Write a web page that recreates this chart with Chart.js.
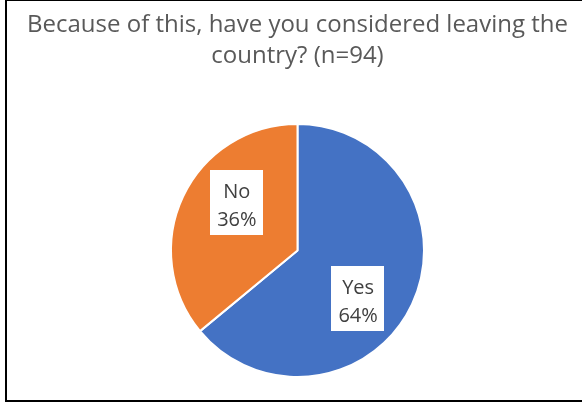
<!DOCTYPE html>
<html>
<head>
<meta charset="utf-8">
<script src="https://cdn.jsdelivr.net/npm/chart.js@4.4.1/dist/chart.umd.min.js"></script>
<style>
  html, body { margin: 0; padding: 0; background: #fff; overflow: hidden; }
  #wrap { position: relative; width: 582px; height: 402px; }
  #frame {
    position: absolute; left: 5px; top: -1px; width: 620px; height: 403px;
    box-sizing: border-box; border: 2px solid #000; pointer-events: none;
  }
</style>
</head>
<body>
<div id="wrap">
  <canvas id="pieCanvas" width="582" height="402"></canvas>
  <div id="frame"></div>
</div>
<script>
// data
var titleLines = ["Because of this, have you considered leaving the", "country? (n=94)"];
var answers = ["Yes", "No"];
var shares = [64, 36];
var sliceColors = ["#4472C4", "#ED7D31"];

// white boxed labels like excel's data labels
var boxLabels = {
    id: 'boxLabels',
    afterDatasetsDraw: function(chart) {
        var ctx = chart.ctx;
        var meta = chart.getDatasetMeta(0);
        ctx.save();
        ctx.font = '20px "Open Sans"';
        ctx.textAlign = 'center';
        ctx.textBaseline = 'alphabetic';
        meta.data.forEach(function(arc, i) {
            var mid = (arc.startAngle + arc.endAngle) / 2 + 13 * Math.PI / 180;
            var r = arc.outerRadius * 0.61;
            var cx = arc.x + Math.cos(mid) * r;
            var cy = arc.y + Math.sin(mid) * r;
            var lines = [answers[i], shares[i] + "%"];
            var w = Math.max(ctx.measureText(lines[0]).width, ctx.measureText(lines[1]).width) + 14;
            var h = 65;
            var top = Math.round(cy - h / 2);
            ctx.fillStyle = '#ffffff';
            ctx.fillRect(Math.round(cx - w / 2), top, Math.round(w), h);
            ctx.fillStyle = '#404040';
            ctx.fillText(lines[0], cx, top + 28);
            ctx.fillText(lines[1], cx, top + 56);
        });
        ctx.restore();
    }
};

var config = {
    type: 'pie',
    data: {
        labels: answers,
        datasets: [{
            data: shares,
            backgroundColor: sliceColors,
            borderColor: '#ffffff',
            borderWidth: 2
        }]
    },
    options: {
        responsive: false,
        animation: false,
        layout: { padding: { left: 13, right: 0, top: 0, bottom: 24 } },
        plugins: {
            legend: { display: false },
            tooltip: { enabled: false },
            title: {
                display: true,
                text: titleLines,
                color: '#595959',
                font: { family: '"Open Sans"', size: 24, weight: 'normal', lineHeight: 31 / 24 },
                padding: { top: 10, bottom: 51 }
            }
        }
    },
    plugins: [boxLabels]
};
new Chart(document.getElementById('pieCanvas'), config);
</script>
</body>
</html>
